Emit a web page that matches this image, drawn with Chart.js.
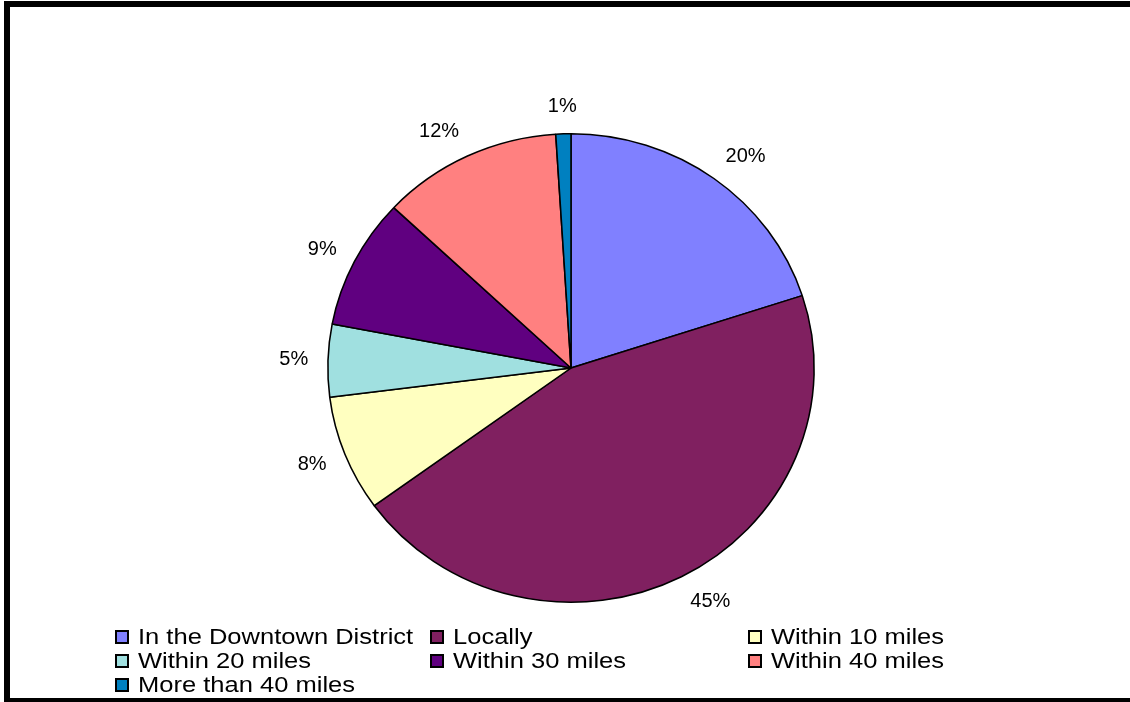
<!DOCTYPE html>
<html>
<head>
<meta charset="utf-8">
<script src="https://cdn.jsdelivr.net/npm/chart.js@4"></script>
<style>
    html, body { margin: 0; padding: 0; background: #fff; overflow: hidden; }
    body { width: 1130px; height: 702px; position: relative; font-family: "Liberation Sans", Arial, sans-serif; }
    #frame {
        position: absolute; left: 4px; top: 1px; width: 1140px; height: 691px;
        border-top: 6px solid #000; border-left: 6px solid #000; border-bottom: 4px solid #000;
    }
    #chart { position: absolute; left: 0; top: 0; }
    .legend-item { position: absolute; height: 24px; line-height: 24px; font-size: 22px; color: #000; white-space: nowrap; }
    .legend-item .box {
        position: absolute; left: 0; top: 5px; width: 10px; height: 10px;
        border: 2px solid #000;
    }
    .legend-item .txt {
        position: absolute; left: 23px; top: 0;
        transform: scaleX(1.16); transform-origin: left center;
    }
</style>
</head>
<body>
<div id="frame"></div>
<canvas id="chart" width="1130" height="702"></canvas>
<div id="legend"></div>
<script>
    const places = ['In the Downtown District', 'Locally', 'Within 10 miles', 'Within 20 miles', 'Within 30 miles', 'Within 40 miles', 'More than 40 miles'];
    const shares = [20, 45, 8, 5, 9, 12, 1];
    const colors = ['#8080FF', '#802060', '#FFFFC0', '#A0E0E0', '#600080', '#FF8080', '#0080C0'];

    // the pie is a bit wider than tall
    const stretchX = 1.038;

    const ellipse = {
        id: 'ellipse',
        beforeDatasetsDraw(chart) {
            const arc = chart.getDatasetMeta(0).data[0];
            const ctx = chart.ctx;
            ctx.save();
            ctx.translate(arc.x, arc.y);
            ctx.scale(stretchX, 1);
            ctx.translate(-arc.x, -arc.y);
        },
        afterDatasetsDraw(chart) {
            chart.ctx.restore();
        }
    };

    // percentage labels outside each slice, box corner facing the pie
    const sliceLabels = {
        id: 'sliceLabels',
        afterDraw(chart) {
            const ctx = chart.ctx;
            const meta = chart.getDatasetMeta(0);
            ctx.save();
            ctx.font = '20px "Liberation Sans", Arial, sans-serif';
            ctx.fillStyle = '#000';
            ctx.textAlign = 'center';
            ctx.textBaseline = 'middle';
            meta.data.forEach((arc, i) => {
                const text = shares[i] + '%';
                const w = ctx.measureText(text).width;
                const h = 17;
                const a = (arc.startAngle + arc.endAngle) / 2;
                const s = Math.cos(a), c = Math.sin(a);
                const r = arc.outerRadius + 19;
                const dx = Math.abs(s) < 0.2 ? s * w / 2 : Math.sign(s) * w / 2;
                const x = arc.x + s * r * stretchX + dx;
                const y = arc.y + c * r + c * h / 2;
                ctx.fillText(text, x, y);
            });
            ctx.restore();
        }
    };

    new Chart(document.getElementById('chart').getContext('2d'), {
        type: 'pie',
        data: {
            labels: places,
            datasets: [{
                data: shares,
                backgroundColor: colors,
                borderColor: '#000',
                borderWidth: 1.5
            }]
        },
        options: {
            responsive: false,
            animation: false,
            devicePixelRatio: 1,
            layout: { padding: { left: 336, right: 324, top: 133, bottom: 99 } },
            plugins: {
                legend: { display: false },
                tooltip: { enabled: false }
            }
        },
        plugins: [ellipse, sliceLabels]
    });

    // legend in three columns
    const colX = [115, 430, 748];
    const rowY = [625, 649, 673];
    const legend = document.getElementById('legend');
    places.forEach((name, i) => {
        const item = document.createElement('div');
        item.className = 'legend-item';
        item.style.left = colX[i % 3] + 'px';
        item.style.top = rowY[Math.floor(i / 3)] + 'px';
        const box = document.createElement('span');
        box.className = 'box';
        box.style.background = colors[i];
        const txt = document.createElement('span');
        txt.className = 'txt';
        txt.textContent = name;
        item.appendChild(box);
        item.appendChild(txt);
        legend.appendChild(item);
    });
</script>
</body>
</html>
